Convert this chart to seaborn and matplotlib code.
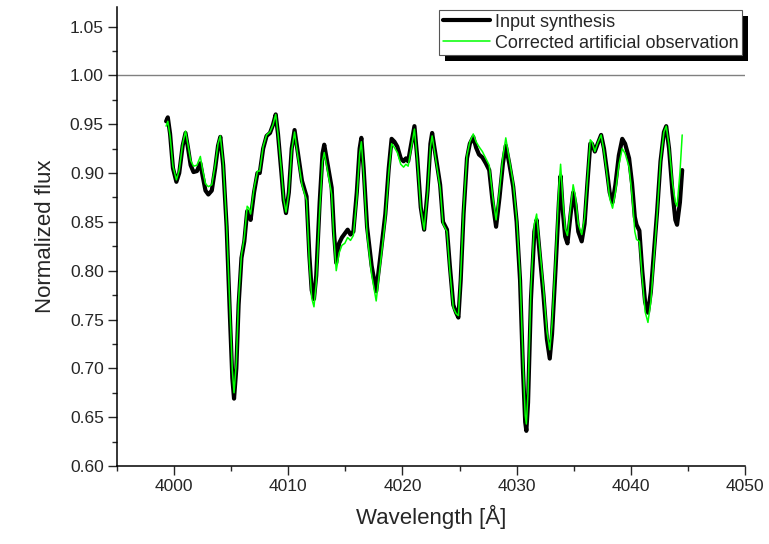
import matplotlib
matplotlib.use("Agg")
import matplotlib.pyplot as plt
import seaborn as sns
import pandas as pd
from matplotlib.patches import Rectangle
from matplotlib.ticker import MultipleLocator, FormatStrFormatter

wavelength = [3999.3, 3999.45, 3999.65, 3999.9, 4000.2, 4000.45, 4000.75, 4001.0, 4001.2, 4001.45,
              4001.7, 4002.0, 4002.3, 4002.5, 4002.75, 4003.0, 4003.3, 4003.6, 4003.85, 4004.05,
              4004.3, 4004.6, 4004.9, 4005.1, 4005.25, 4005.45, 4005.65, 4005.9, 4006.15, 4006.4,
              4006.55, 4006.7, 4007.0, 4007.3, 4007.5, 4007.8, 4008.1, 4008.4, 4008.65, 4008.9,
              4009.1, 4009.4, 4009.6, 4009.8, 4010.05, 4010.3, 4010.55, 4010.85, 4011.2, 4011.6,
              4011.85, 4012.05, 4012.25, 4012.45, 4012.75, 4013.0, 4013.15, 4013.4, 4013.8, 4014.0,
              4014.2, 4014.45, 4014.7, 4014.95, 4015.2, 4015.45, 4015.7, 4016.0, 4016.25, 4016.4,
              4016.6, 4016.9, 4017.3, 4017.7, 4018.1, 4018.5, 4018.8, 4019.05, 4019.3, 4019.55,
              4019.85, 4020.1, 4020.3, 4020.5, 4020.8, 4021.05, 4021.3, 4021.6, 4021.9, 4022.2,
              4022.45, 4022.6, 4022.9, 4023.3, 4023.55, 4023.9, 4024.15, 4024.45, 4024.7, 4024.9,
              4025.1, 4025.35, 4025.65, 4025.9, 4026.2, 4026.45, 4026.7, 4027.0, 4027.3, 4027.6,
              4027.9, 4028.2, 4028.5, 4028.8, 4029.05, 4029.35, 4029.7, 4030.0, 4030.3, 4030.55,
              4030.75, 4030.85, 4031.0, 4031.25, 4031.55, 4031.75, 4032.0, 4032.35, 4032.65, 4032.9,
              4033.1, 4033.4, 4033.7, 4033.85, 4034.05, 4034.25, 4034.45, 4034.7, 4034.95, 4035.15,
              4035.4, 4035.7, 4035.95, 4036.2, 4036.45, 4036.6, 4036.85, 4037.1, 4037.4, 4037.65,
              4037.9, 4038.15, 4038.4, 4038.65, 4038.95, 4039.25, 4039.5, 4039.85, 4040.1, 4040.35,
              4040.5, 4040.75, 4041.0, 4041.25, 4041.5, 4041.75, 4042.0, 4042.3, 4042.6, 4042.9,
              4043.1, 4043.35, 4043.65, 4043.9, 4044.05, 4044.3, 4044.5]

input_synthesis = [0.953, 0.957, 0.940, 0.905, 0.891, 0.900, 0.928, 0.941, 0.927, 0.908,
                   0.901, 0.902, 0.910, 0.897, 0.882, 0.878, 0.882, 0.905, 0.928, 0.937,
                   0.908, 0.845, 0.750, 0.690, 0.669, 0.700, 0.765, 0.813, 0.830, 0.861,
                   0.858, 0.852, 0.880, 0.900, 0.900, 0.925, 0.938, 0.941, 0.949, 0.960,
                   0.940, 0.900, 0.872, 0.859, 0.880, 0.925, 0.944, 0.920, 0.892, 0.876,
                   0.815, 0.780, 0.771, 0.795, 0.870, 0.920, 0.929, 0.912, 0.885, 0.840,
                   0.808, 0.828, 0.834, 0.838, 0.842, 0.837, 0.840, 0.880, 0.925, 0.936,
                   0.905, 0.845, 0.805, 0.779, 0.818, 0.858, 0.905, 0.935, 0.932, 0.927,
                   0.915, 0.912, 0.915, 0.912, 0.932, 0.948, 0.915, 0.865, 0.842, 0.882,
                   0.930, 0.941, 0.918, 0.888, 0.850, 0.842, 0.805, 0.765, 0.757, 0.752,
                   0.790, 0.858, 0.915, 0.930, 0.937, 0.926, 0.919, 0.916, 0.910, 0.903,
                   0.870, 0.845, 0.875, 0.910, 0.928, 0.910, 0.886, 0.850, 0.790, 0.700,
                   0.645, 0.636, 0.665, 0.770, 0.840, 0.852, 0.820, 0.775, 0.730, 0.710,
                   0.735, 0.800, 0.870, 0.897, 0.860, 0.835, 0.828, 0.855, 0.880, 0.868,
                   0.840, 0.830, 0.848, 0.890, 0.930, 0.930, 0.922, 0.930, 0.939, 0.925,
                   0.903, 0.880, 0.870, 0.888, 0.918, 0.935, 0.930, 0.915, 0.890, 0.855,
                   0.847, 0.841, 0.800, 0.768, 0.757, 0.778, 0.815, 0.860, 0.912, 0.942,
                   0.948, 0.925, 0.880, 0.852, 0.847, 0.870, 0.903]

corrected_observation = [0.948, 0.953, 0.938, 0.907, 0.893, 0.903, 0.930, 0.943, 0.930, 0.913,
                         0.907, 0.908, 0.917, 0.903, 0.889, 0.886, 0.888, 0.908, 0.930, 0.938,
                         0.910, 0.847, 0.758, 0.698, 0.675, 0.706, 0.770, 0.816, 0.834, 0.866,
                         0.864, 0.858, 0.884, 0.902, 0.902, 0.927, 0.939, 0.942, 0.949, 0.960,
                         0.940, 0.902, 0.873, 0.860, 0.880, 0.923, 0.942, 0.916, 0.888, 0.872,
                         0.808, 0.772, 0.763, 0.787, 0.862, 0.912, 0.921, 0.905, 0.878, 0.833,
                         0.800, 0.818, 0.826, 0.828, 0.834, 0.831, 0.836, 0.874, 0.920, 0.932,
                         0.900, 0.838, 0.796, 0.769, 0.810, 0.852, 0.900, 0.930, 0.926, 0.921,
                         0.909, 0.906, 0.909, 0.907, 0.928, 0.945, 0.913, 0.864, 0.842, 0.880,
                         0.927, 0.938, 0.915, 0.885, 0.848, 0.840, 0.800, 0.762, 0.756, 0.754,
                         0.795, 0.862, 0.918, 0.932, 0.940, 0.932, 0.927, 0.922, 0.915, 0.908,
                         0.876, 0.852, 0.882, 0.917, 0.936, 0.915, 0.890, 0.854, 0.796, 0.710,
                         0.652, 0.643, 0.675, 0.780, 0.848, 0.858, 0.826, 0.782, 0.738, 0.719,
                         0.745, 0.810, 0.885, 0.909, 0.872, 0.843, 0.836, 0.862, 0.888, 0.876,
                         0.848, 0.837, 0.854, 0.894, 0.934, 0.932, 0.922, 0.931, 0.939, 0.922,
                         0.900, 0.874, 0.864, 0.880, 0.908, 0.925, 0.920, 0.906, 0.878, 0.840,
                         0.832, 0.830, 0.793, 0.758, 0.747, 0.768, 0.808, 0.857, 0.912, 0.942,
                         0.948, 0.928, 0.890, 0.870, 0.866, 0.900, 0.939]

labels = ["Input synthesis", "Corrected artificial observation"]

sns.set_style("ticks")
plt.rcParams["font.family"] = ["Liberation Sans", "DejaVu Sans"]

df = pd.DataFrame({"wl": wavelength, "a": input_synthesis, "b": corrected_observation})

fig = plt.figure(figsize=(7.69, 5.44), dpi=100)
W, H = 769, 544
ax = fig.add_axes([117 / W, 1 - 466 / H, (745 - 117) / W, (466 - 7) / H])
ax.set_facecolor("white")

ax.axhline(1.0, color="#808080", lw=1.0, zorder=1)
sns.lineplot(data=df, x="wl", y="a", ax=ax, color="black", lw=3.0, label=labels[0],
             sort=False, estimator=None, zorder=3,
             solid_joinstyle="round", solid_capstyle="round")
sns.lineplot(data=df, x="wl", y="b", ax=ax, color="#00FF00", lw=1.1, label=labels[1],
             sort=False, estimator=None, zorder=4,
             solid_joinstyle="round", solid_capstyle="round")

ax.set_xlim(3995, 4050)
ax.set_ylim(0.60, 1.07)
ax.xaxis.set_major_locator(MultipleLocator(10))
ax.xaxis.set_minor_locator(MultipleLocator(5))
ax.yaxis.set_major_locator(MultipleLocator(0.05))
ax.yaxis.set_minor_locator(MultipleLocator(0.025))
ax.yaxis.set_major_formatter(FormatStrFormatter("%.2f"))
ax.xaxis.set_major_formatter(FormatStrFormatter("%d"))
ax.tick_params(which="major", direction="out", length=6.5, width=1.0, labelsize=12.5, pad=3)
ax.tick_params(which="minor", direction="out", length=3.5, width=1.0)
for s in ["top", "right"]:
    ax.spines[s].set_visible(False)
for s in ["left", "bottom"]:
    ax.spines[s].set_linewidth(1.1)
    ax.spines[s].set_color("black")

ax.set_xlabel("Wavelength [Å]", fontsize=16, labelpad=8)
ax.set_ylabel("Normalized flux", fontsize=16, labelpad=10)

leg = ax.legend(loc="upper left", bbox_to_anchor=(439 / W, 1 - 10 / H),
                bbox_transform=fig.transFigure, fontsize=13, frameon=True,
                fancybox=False, framealpha=1, edgecolor="#555555", borderpad=0.2,
                labelspacing=0.22, handlelength=2.6, handletextpad=0.3, borderaxespad=0)
leg.get_frame().set_linewidth(0.8)
leg.set_zorder(10)

fig.canvas.draw()
bb = leg.get_window_extent().transformed(fig.transFigure.inverted())
shadow = Rectangle((bb.x0 + 6 / W, bb.y0 - 6 / H), bb.width, bb.height,
                   transform=fig.transFigure, facecolor="black", edgecolor="none",
                   zorder=9, clip_on=False)
ax.add_patch(shadow)

fig.savefig("out.png", dpi=100)
